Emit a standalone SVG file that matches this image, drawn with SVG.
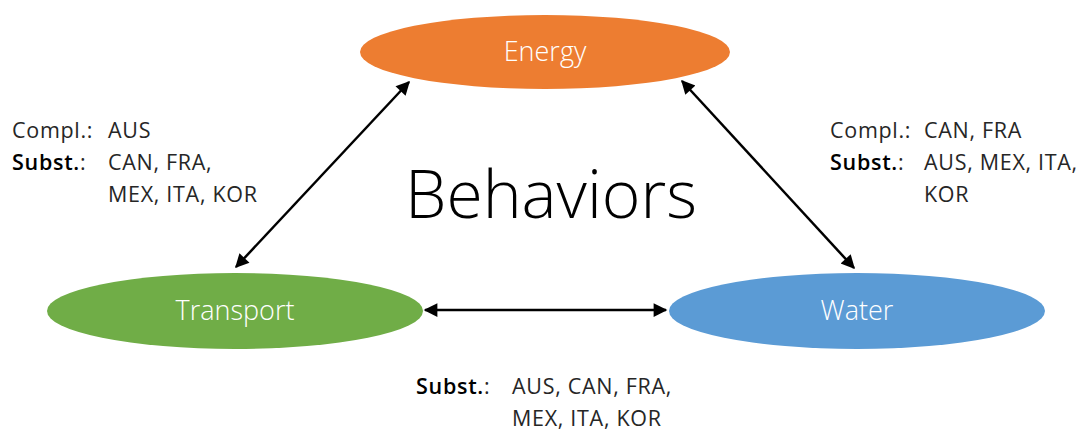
<svg xmlns="http://www.w3.org/2000/svg" width="1086" height="437" viewBox="0 0 1086 437">
<style>
.node-label{font-family:"Open Sans","Liberation Sans",sans-serif;font-weight:300;font-size:27px;fill:#ffffff;text-anchor:middle}
.lbl{font-family:"Open Sans","Liberation Sans",sans-serif;font-weight:400;font-size:21.5px;letter-spacing:0.7px;fill:#262626}
.b{font-weight:600;fill:#000000}
.title{font-family:"Open Sans","Liberation Sans",sans-serif;font-weight:300;font-size:66px;fill:#000000;text-anchor:middle}
.conn{stroke:#000000;stroke-width:2.5;fill:none;marker-start:url(#ah);marker-end:url(#ah)}
</style>
<defs>
<marker id="ah" viewBox="0 0 10 10" refX="9" refY="5" markerWidth="6.5" markerHeight="5.5" orient="auto-start-reverse" markerUnits="strokeWidth">
<path d="M0,0 L10,5 L0,10 z" fill="#000000"/>
</marker>
</defs>
<rect width="1086" height="437" fill="#ffffff"/>
<g id="energy">
<ellipse cx="545" cy="52" rx="185" ry="37" fill="#ED7D31"/>
<text class="node-label" x="545" y="61">Energy</text>
</g>
<g id="transport">
<ellipse cx="235" cy="311" rx="188" ry="38" fill="#70AD47"/>
<text class="node-label" x="235" y="320">Transport</text>
</g>
<g id="water">
<ellipse cx="857" cy="311" rx="188" ry="38" fill="#5B9BD5"/>
<text class="node-label" x="857" y="320">Water</text>
</g>
<g id="connectors">
<line class="conn" x1="409" y1="82" x2="236" y2="267"/>
<line class="conn" x1="682" y1="81" x2="854" y2="268"/>
<line class="conn" x1="425" y1="310" x2="666" y2="310"/>
</g>
<g id="title">
<text class="title" x="551" y="218">Behaviors</text>
</g>
<g id="label-left">
<text class="lbl" x="12" y="138">Compl.:</text>
<text class="lbl" x="108" y="138">AUS</text>
<text class="lbl" x="12" y="170"><tspan class="b">Subst.</tspan>:</text>
<text class="lbl" x="108" y="170">CAN, FRA,</text>
<text class="lbl" x="108" y="202">MEX, ITA, KOR</text>
</g>
<g id="label-right">
<text class="lbl" x="830" y="138">Compl.:</text>
<text class="lbl" x="924" y="138">CAN, FRA</text>
<text class="lbl" x="830" y="170"><tspan class="b">Subst.</tspan>:</text>
<text class="lbl" x="924" y="170">AUS, MEX, ITA,</text>
<text class="lbl" x="924" y="202">KOR</text>
</g>
<g id="label-bottom">
<text class="lbl" x="416" y="394"><tspan class="b">Subst.</tspan>:</text>
<text class="lbl" x="512" y="394">AUS, CAN, FRA,</text>
<text class="lbl" x="512" y="426">MEX, ITA, KOR</text>
</g>
</svg>
